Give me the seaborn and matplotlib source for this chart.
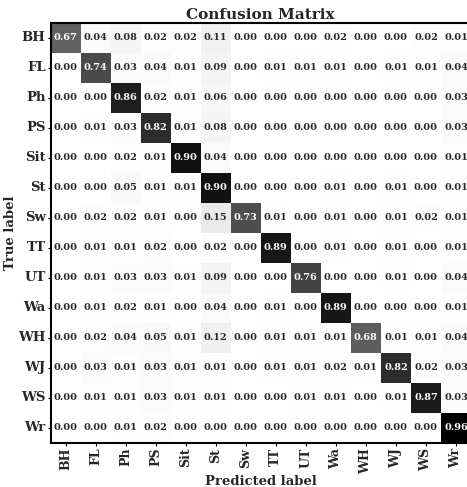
import numpy as np
import pandas as pd
import matplotlib
matplotlib.use("Agg")
import matplotlib.pyplot as plt
import seaborn as sns

labels = ["BH", "FL", "Ph", "PS", "Sit", "St", "Sw", "TT", "UT", "Wa", "WH", "WJ", "WS", "Wr"]

row_BH  = [0.67, 0.04, 0.08, 0.02, 0.02, 0.11, 0.00, 0.00, 0.00, 0.02, 0.00, 0.00, 0.02, 0.01]
row_FL  = [0.00, 0.74, 0.03, 0.04, 0.01, 0.09, 0.00, 0.01, 0.01, 0.01, 0.00, 0.01, 0.01, 0.04]
row_Ph  = [0.00, 0.00, 0.86, 0.02, 0.01, 0.06, 0.00, 0.00, 0.00, 0.00, 0.00, 0.00, 0.00, 0.03]
row_PS  = [0.00, 0.01, 0.03, 0.82, 0.01, 0.08, 0.00, 0.00, 0.00, 0.00, 0.00, 0.00, 0.00, 0.03]
row_Sit = [0.00, 0.00, 0.02, 0.01, 0.90, 0.04, 0.00, 0.00, 0.00, 0.00, 0.00, 0.00, 0.00, 0.01]
row_St  = [0.00, 0.00, 0.05, 0.01, 0.01, 0.90, 0.00, 0.00, 0.00, 0.01, 0.00, 0.01, 0.00, 0.01]
row_Sw  = [0.00, 0.02, 0.02, 0.01, 0.00, 0.15, 0.73, 0.01, 0.00, 0.01, 0.00, 0.01, 0.02, 0.01]
row_TT  = [0.00, 0.01, 0.01, 0.02, 0.00, 0.02, 0.00, 0.89, 0.00, 0.01, 0.00, 0.01, 0.00, 0.01]
row_UT  = [0.00, 0.01, 0.03, 0.03, 0.01, 0.09, 0.00, 0.00, 0.76, 0.00, 0.00, 0.01, 0.00, 0.04]
row_Wa  = [0.00, 0.01, 0.02, 0.01, 0.00, 0.04, 0.00, 0.01, 0.00, 0.89, 0.00, 0.00, 0.00, 0.01]
row_WH  = [0.00, 0.02, 0.04, 0.05, 0.01, 0.12, 0.00, 0.01, 0.01, 0.01, 0.68, 0.01, 0.01, 0.04]
row_WJ  = [0.00, 0.03, 0.01, 0.03, 0.01, 0.01, 0.00, 0.01, 0.01, 0.02, 0.01, 0.82, 0.02, 0.03]
row_WS  = [0.00, 0.01, 0.01, 0.03, 0.01, 0.01, 0.00, 0.00, 0.01, 0.01, 0.00, 0.01, 0.87, 0.03]
row_Wr  = [0.00, 0.00, 0.01, 0.02, 0.00, 0.00, 0.00, 0.00, 0.00, 0.00, 0.00, 0.00, 0.00, 0.96]

rows = [row_BH, row_FL, row_Ph, row_PS, row_Sit, row_St, row_Sw,
        row_TT, row_UT, row_Wa, row_WH, row_WJ, row_WS, row_Wr]
df = pd.DataFrame(rows, index=labels, columns=labels)

sns.set_theme(style="white")
plt.rcParams['font.family'] = ['DejaVu Serif']

fig = plt.figure(figsize=(4.67, 4.87), dpi=100)
ax = fig.add_axes([50.5 / 467, 44 / 487, 420.5 / 467, 420.3 / 487])

sns.heatmap(df, ax=ax, cmap="Greys", vmin=0, vmax=0.96, annot=True, fmt=".2f",
            cbar=False, square=False,
            annot_kws={"fontsize": 7, "fontweight": "bold"})

for s in ["left", "bottom", "top", "right"]:
    ax.spines[s].set_visible(True)
    ax.spines[s].set_linewidth(1.5)
    ax.spines[s].set_color("black")

ax.tick_params(axis="both", which="both", length=2.5, width=0.8, color="black",
               left=True, bottom=True, pad=1)
ax.set_xticklabels(labels, rotation=90, fontsize=9, fontweight="bold")
ax.set_yticklabels(labels, rotation=0, fontsize=9.5, fontweight="bold")
ax.set_xlabel("Predicted label", fontsize=9.5, fontweight="bold", labelpad=1)
ax.set_ylabel("True label", fontsize=9.5, fontweight="bold", labelpad=1)
ax.set_title("Confusion Matrix", fontsize=11, fontweight="bold", pad=3)

fig.savefig("out.png", dpi=100)
